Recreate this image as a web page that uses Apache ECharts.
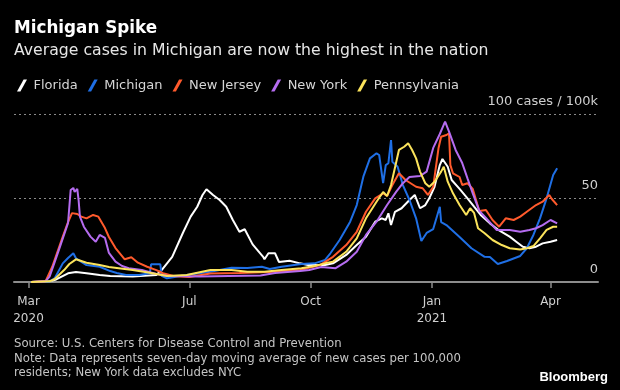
<!DOCTYPE html>
<html><head><meta charset="utf-8">
<script src="https://cdn.jsdelivr.net/npm/echarts@6/dist/echarts.min.js"></script>
<style>html,body{margin:0;padding:0;background:#000;}#c{width:620px;height:390px;}</style>
</head><body><div id="c"></div>
<script>
const seriesNames = ['Florida', 'Michigan', 'New Jersey', 'New York', 'Pennsylvania'];
const seriesColors = ['#ffffff', '#1f6fe5', '#ff5a2c', '#b56cf0', '#fbe35b'];

const florida = [['2020-03-03',0],['2020-03-17',0.5],['2020-03-22',1.5],['2020-03-31',5.2],['2020-04-06',6.0],['2020-04-14',5.2],['2020-04-24',4.2],['2020-05-02',3.6],['2020-05-19',3.2],['2020-06-06',4.2],['2020-06-10',7.1],['2020-06-18',15],['2020-06-26',29],['2020-07-02',38.9],['2020-07-07',44.8],['2020-07-11',51.8],['2020-07-14',55.2],['2020-07-19',51.8],['2020-07-24',48.8],['2020-07-29',44.8],['2020-08-03',36.9],['2020-08-08',29.9],['2020-08-12',31.4],['2020-08-18',22.4],['2020-08-26',15],['2020-08-27',13.5],['2020-08-30',17.1],['2020-09-04',17.1],['2020-09-07',11.9],['2020-09-15',12.7],['2020-09-23',11.1],['2020-09-29',10.1],['2020-10-12',10.1],['2020-10-18',11.1],['2020-10-28',16.1],['2020-11-05',22],['2020-11-12',27],['2020-11-19',35.9],['2020-11-24',37.9],['2020-11-27',36.9],['2020-11-29',40.9],['2020-12-01',33.9],['2020-12-04',41.8],['2020-12-09',43.9],['2020-12-15',48.8],['2020-12-19',51.8],['2020-12-23',43.9],['2020-12-27',45.8],['2020-12-30',49.8],['2021-01-03',56.7],['2021-01-07',69.6],['2021-01-09',73.2],['2021-01-13',68.6],['2021-01-16',60.7],['2021-01-22',55.4],['2021-01-28',49.8],['2021-02-02',44.8],['2021-02-07',39.9],['2021-02-14',34.9],['2021-02-21',30.7],['2021-03-01',27],['2021-03-06',24],['2021-03-11',21],['2021-03-16',20.1],['2021-03-21',21],['2021-03-26',23],['2021-04-01',24],['2021-04-06',25]];

const michigan = [['2020-03-03',0],['2020-03-17',0.3],['2020-03-21',2.4],['2020-03-27',11.1],['2020-03-31',14.3],['2020-04-04',17.1],['2020-04-06',14.1],['2020-04-14',10.1],['2020-04-24',9.1],['2020-05-02',6.5],['2020-05-07',5.4],['2020-05-14',4.2],['2020-05-24',4.2],['2020-06-01',5.2],['2020-06-02',10.5],['2020-06-09',10.5],['2020-06-10',3.6],['2020-06-14',2.2],['2020-06-29',4.2],['2020-07-17',6.1],['2020-08-02',8.5],['2020-08-14',8.3],['2020-08-25',9.1],['2020-08-31',7.7],['2020-09-09',9.1],['2020-09-24',10.7],['2020-10-04',11.1],['2020-10-12',13.1],['2020-10-16',17.1],['2020-10-23',25],['2020-10-31',35.9],['2020-11-05',45.8],['2020-11-10',62.7],['2020-11-15',73.6],['2020-11-20',76.6],['2020-11-22',75.6],['2020-11-25',58.9],['2020-11-27',69.6],['2020-11-29',70.7],['2020-12-01',84.5],['2020-12-02',71.6],['2020-12-06',68.6],['2020-12-10',57.7],['2020-12-15',48.8],['2020-12-20',37.9],['2020-12-24',24.4],['2020-12-28',29.2],['2021-01-02',31.5],['2021-01-07',44.8],['2021-01-08',35.7],['2021-01-12',33.9],['2021-01-22',26.8],['2021-01-31',20.1],['2021-02-10',15],['2021-02-14',14.9],['2021-02-20',10.7],['2021-02-27',12.5],['2021-03-09',15.5],['2021-03-14',20.1],['2021-03-19',28],['2021-03-24',37.9],['2021-03-29',49.8],['2021-04-03',63.7],['2021-04-06',67.7]];

const newJersey = [['2020-03-03',0],['2020-03-14',0.5],['2020-03-19',9.1],['2020-03-27',27],['2020-03-31',35.7],['2020-04-03',41],['2020-04-07',40.5],['2020-04-10',38.9],['2020-04-14',37.9],['2020-04-19',39.9],['2020-04-23',38.9],['2020-04-28',32.1],['2020-05-01',26.8],['2020-05-06',20.2],['2020-05-13',13.5],['2020-05-18',14.7],['2020-05-23',11.5],['2020-05-30',9.1],['2020-06-06',7.1],['2020-06-11',5.2],['2020-06-19',3.6],['2020-07-01',3],['2020-07-17',5],['2020-08-08',5.4],['2020-08-31',6],['2020-09-23',7.1],['2020-10-08',10.1],['2020-10-18',15],['2020-10-28',22],['2020-11-05',29.9],['2020-11-12',41.8],['2020-11-19',49.8],['2020-11-25',52.8],['2020-11-28',51.2],['2020-12-02',57.7],['2020-12-07',64.7],['2020-12-12',60.7],['2020-12-20',56.7],['2020-12-25',55.8],['2020-12-29',51.8],['2021-01-02',56.7],['2021-01-06',79.6],['2021-01-08',86.5],['2021-01-12',87.5],['2021-01-14',88.5],['2021-01-15',69.6],['2021-01-17',64.7],['2021-01-22',62.5],['2021-01-24',57.7],['2021-01-28',58.8],['2021-02-01',55.4],['2021-02-06',42.3],['2021-02-11',42.9],['2021-02-16',36.9],['2021-02-21',32.9],['2021-02-26',37.9],['2021-03-04',36.9],['2021-03-09',38.9],['2021-03-14',41.8],['2021-03-21',45.8],['2021-03-26',47.8],['2021-03-31',51.8],['2021-04-02',49.4],['2021-04-06',45.8]];

const newYork = [['2020-03-03',0],['2020-03-14',0.5],['2020-03-17',3.2],['2020-03-24',19],['2020-03-31',35.1],['2020-04-02',54.8],['2020-04-04',56],['2020-04-05',53.6],['2020-04-07',55.4],['2020-04-08',48.8],['2020-04-09',38.9],['2020-04-12',32.9],['2020-04-17',27],['2020-04-21',24],['2020-04-24',28],['2020-04-28',26.2],['2020-05-01',17.3],['2020-05-06',12.1],['2020-05-11',9.5],['2020-05-16',8.2],['2020-05-26',7.1],['2020-06-06',4.8],['2020-06-15',3.6],['2020-07-09',3.3],['2020-07-31',3.6],['2020-08-24',3.9],['2020-09-04',5.4],['2020-09-23',6.5],['2020-09-30',7.1],['2020-10-09',8.9],['2020-10-20',8.2],['2020-10-28',12.1],['2020-11-05',18],['2020-11-12',28],['2020-11-20',35.9],['2020-11-28',45.8],['2020-12-05',53.8],['2020-12-10',58.8],['2020-12-15',62.5],['2020-12-23',63.1],['2020-12-28',65.7],['2021-01-02',79.8],['2021-01-07',88.1],['2021-01-11',95.4],['2021-01-14',89.5],['2021-01-19',78.6],['2021-01-24',70.8],['2021-01-28',61.7],['2021-02-01',52.8],['2021-02-06',42.3],['2021-02-11',38.1],['2021-02-19',31],['2021-03-01',31],['2021-03-09',29.9],['2021-03-16',31],['2021-03-21',32],['2021-03-26',33.9],['2021-04-01',36.9],['2021-04-06',34.9]];

const pennsylvania = [['2020-03-03',0],['2020-03-17',0.4],['2020-03-21',1.8],['2020-03-28',7.1],['2020-04-01',10.7],['2020-04-06',13.5],['2020-04-14',11.5],['2020-04-24',10.1],['2020-05-01',8.9],['2020-05-19',7.1],['2020-06-01',5.5],['2020-06-14',3.6],['2020-06-29',4.2],['2020-07-17',7.1],['2020-08-02',7.1],['2020-08-14',6.1],['2020-08-27',6.1],['2020-09-09',7.1],['2020-09-24',8.2],['2020-10-04',9.5],['2020-10-12',11.1],['2020-10-18',12.1],['2020-10-28',18],['2020-11-05',26],['2020-11-12',37.9],['2020-11-20',47.8],['2020-11-25',53.6],['2020-11-28',51.2],['2020-12-01',57.7],['2020-12-05',71.6],['2020-12-07',78.6],['2020-12-11',80.5],['2020-12-14',82.6],['2020-12-17',78.6],['2020-12-20',73.6],['2020-12-23',65.7],['2020-12-27',58.8],['2020-12-30',56.7],['2021-01-03',59.7],['2021-01-08',65.7],['2021-01-10',68.6],['2021-01-13',59.7],['2021-01-17',52.8],['2021-01-22',45.8],['2021-01-27',39.9],['2021-01-30',43.9],['2021-02-02',41.1],['2021-02-05',32],['2021-02-10',29],['2021-02-16',25],['2021-02-23',22],['2021-03-01',20.1],['2021-03-09',19.3],['2021-03-14',20.1],['2021-03-19',21.4],['2021-03-24',26],['2021-03-29',31],['2021-04-03',32.9],['2021-04-06',32.9]];

const xTickDates = ['2020-03-01', '2020-07-01', '2020-10-01', '2021-01-01', '2021-04-01'];
const xTickLabels = ['Mar\n2020', 'Jul', 'Oct', 'Jan\n2021', 'Apr'];
const xRange = ['2020-02-19', '2021-05-07'];
const yTicks = [0, 50, 100];
const yTickLabels = ['0', '50', '100 cases / 100k'];

const EPOCH = Date.UTC(2020, 2, 1);
function dayOf(s) { const p = s.split('-'); return (Date.UTC(+p[0], +p[1] - 1, +p[2]) - EPOCH) / 86400000; }
const tickDays = xTickDates.map(dayOf);
const allData = [florida, michigan, newJersey, newYork, pennsylvania];

const FONT = '"DejaVu Sans", sans-serif';
const chart = echarts.init(document.getElementById('c'), null, { renderer: 'canvas' });
chart.setOption({
  animation: false,
  backgroundColor: '#000000',
  textStyle: { fontFamily: FONT },
  grid: { left: 14, right: 22, top: 114, bottom: 108 },
  legend: {
    left: 12, top: 74,
    itemWidth: 13, itemHeight: 12, itemGap: 10,
    icon: 'path://M0,12 L3.4,12 L10,0 L6.6,0 Z',
    textStyle: { color: '#d6d6d6', fontSize: 13, fontFamily: FONT },
    data: seriesNames
  },
  xAxis: {
    type: 'value',
    min: dayOf(xRange[0]), max: dayOf(xRange[1]),
    axisLine: { show: true, lineStyle: { color: '#8c8c8c', width: 2 } },
    axisTick: { show: true, customValues: tickDays, length: 6, lineStyle: { color: '#8c8c8c', width: 1.5 } },
    axisLabel: {
      customValues: tickDays,
      formatter: (v) => { const i = tickDays.indexOf(v); return i >= 0 ? xTickLabels[i] : ''; },
      color: '#cfcfcf', fontSize: 12, lineHeight: 17, margin: 11, fontFamily: FONT
    },
    splitLine: { show: false }
  },
  yAxis: {
    type: 'value', position: 'right', min: 0, max: 100, interval: 50,
    axisLine: { show: false }, axisTick: { show: false },
    axisLabel: {
      inside: true, margin: 0,
      formatter: (v) => { const i = yTicks.indexOf(v); return i >= 0 ? yTickLabels[i] : ''; },
      color: '#cfcfcf', fontSize: 13, verticalAlign: 'bottom', padding: [0, 0, 6, 0], fontFamily: FONT
    },
    splitLine: { show: true, lineStyle: { color: '#8a8a8a', width: 1, type: [2, 3] } }
  },
  series: seriesNames.map((name, i) => ({
    name, type: 'line', showSymbol: false, symbol: 'none',
    data: allData[i].map(p => [dayOf(p[0]), p[1]]),
    lineStyle: { color: seriesColors[i], width: 2 },
    itemStyle: { color: seriesColors[i] },
    emphasis: { disabled: true }
  })),
  graphic: [
    { type: 'text', x: 14, y: 29, style: { text: 'Michigan Spike', fill: '#ffffff', font: 'bold 16.8px "DejaVu Sans"', verticalAlign: 'middle' } },
    { type: 'text', x: 14, y: 51, style: { text: 'Average cases in Michigan are now the highest in the nation', fill: '#e6e6e6', font: '15.7px "DejaVu Sans"', verticalAlign: 'middle' } },
    { type: 'text', x: 14, y: 343.5, style: { text: 'Source: U.S. Centers for Disease Control and Prevention', fill: '#c4c4c4', font: '11.7px "DejaVu Sans"', verticalAlign: 'middle' } },
    { type: 'text', x: 14, y: 358.5, style: { text: 'Note: Data represents seven-day moving average of new cases per 100,000', fill: '#c4c4c4', font: '11.7px "DejaVu Sans"', verticalAlign: 'middle' } },
    { type: 'text', x: 14, y: 373, style: { text: 'residents; New York data excludes NYC', fill: '#c4c4c4', font: '11.7px "DejaVu Sans"', verticalAlign: 'middle' } },
    { type: 'text', x: 608, y: 377, style: { text: 'Bloomberg', fill: '#ffffff', font: 'bold 13px "Liberation Sans"', align: 'right', verticalAlign: 'middle' } }
  ]
});
</script></body></html>
